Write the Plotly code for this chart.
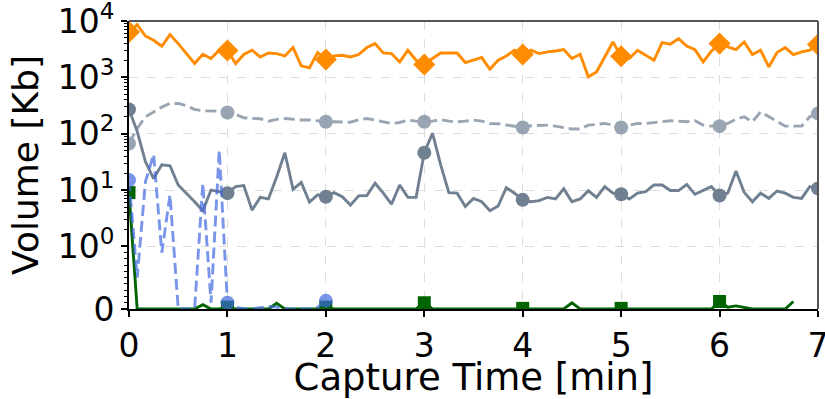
import math
import plotly.graph_objects as go

# ---- data (5-second sampling, time in minutes) ----
n_main = 85
time_min = [i / 12 for i in range(n_main)]

orange_vals = [6380, 8630, 5420, 4550, 3565, 5740, 3975, 2640, 1760, 2570, 2160, 3030,
               3000, 1760, 2540, 3030, 2300, 2710, 2640, 2400, 3380, 1600, 1470, 2760,
               2070, 2400, 2470, 2300, 2540, 3380, 3975, 2710, 2640, 1880, 3030, 2010,
               1690, 2160, 2710, 2710, 2710, 1830, 2010, 2245, 1390, 2010, 2400, 3030,
               2540, 3030, 2640, 2830, 2940, 3110, 2160, 2570, 1020, 1250, 2300, 4250,
               2370, 2160, 3030, 2470, 2010, 4140, 3860, 4870, 3600, 3110, 1880, 2910,
               3975, 3460, 3110, 4250, 2540, 3030, 1530, 2760, 3380, 2540, 2830, 3030,
               3810]

gray_dashed_vals = [67, 124, 200, 244, 296, 344, 344, 313, 270, 255, 255, 251,
                    238, 220, 191, 186, 184, 167, 180, 186, 178, 175, 175, 167,
                    163, 163, 160, 160, 176, 186, 174, 163, 152, 158, 174, 167,
                    163, 167, 178, 167, 163, 167, 174, 167, 152, 150, 142, 136,
                    129, 138, 142, 142, 136, 127, 121, 121, 142, 146, 152, 142,
                    129, 142, 152, 152, 158, 163, 170, 167, 163, 170, 142, 136,
                    136, 152, 181, 200, 163, 244, 200, 163, 136, 136, 136, 200,
                    229]

gray_solid_vals = [270, 110, 32, 16, 28, 27, 12.3, 8.8, 6.2, 4.3, 10, 9.4,
                   8.8, 11.5, 12, 4.4, 7.4, 6.95, 17, 46, 10.3, 13.7, 6.1, 8.2,
                   7.6, 9.0, 7.6, 5.4, 7.9, 8.0, 13.2, 8.8, 5.6, 12.3, 7.4, 7.4,
                   46, 102, 28, 9.0, 8.8, 5.1, 7.1, 6.2, 4.3, 5.2, 11, 8.8,
                   6.7, 6.2, 6.5, 7.4, 6.95, 10.5, 6.2, 6.95, 9.7, 7.4, 11.5, 8.8,
                   8.4, 6.95, 8.8, 9.4, 12.3, 12.3, 9.8, 9.8, 12.6, 8.4, 9.8, 11.5,
                   8.0, 8.8, 21.8, 9.1, 6.2, 8.8, 7.1, 9.6, 8.8, 7.4, 7.1, 11.5,
                   10.7]

blue_vals = [15, 0.5, 14, 43, 0.9, 8.2, 0, 0, 0, 13, 0.1, 51,
             0.1, 0.03, 0, 0, 0.02, 0.04, 0.03, 0, 0, 0, 0, 0.03,
             0.13]

green_vals = [9, 0, 0, 0, 0, 0, 0, 0, 0, 0.07, 0, 0,
              0.03, 0, 0, 0, 0, 0, 0.09, 0, 0, 0, 0, 0,
              0.03, 0, 0, 0, 0, 0, 0, 0, 0, 0, 0, 0,
              0.1, 0, 0, 0, 0, 0, 0, 0, 0, 0, 0, 0,
              0.01, 0, 0, 0, 0, 0, 0.1, 0, 0, 0, 0, 0,
              0.01, 0, 0, 0, 0, 0, 0, 0, 0, 0, 0, 0,
              0.12, 0.03, 0.05, 0.02, 0, 0, 0, 0, 0, 0.12]

x_ticks = [0, 1, 2, 3, 4, 5, 6, 7]
y_major = [0, 1, 10, 100, 1000, 10000]
y_major_text = ["0", "10<sup>0</sup>", "10<sup>1</sup>", "10<sup>2</sup>",
                "10<sup>3</sup>", "10<sup>4</sup>"]

# ---- symmetric-log axis transform (linthresh = 1, base 10, linscale = 1) ----
LINSCALE_ADJ = 1.0 / (1.0 - 1.0 / 10.0)


def symlog(v):
    a = abs(v)
    if a <= 1:
        out = a * LINSCALE_ADJ
    else:
        out = LINSCALE_ADJ + math.log10(a)
    return out if v >= 0 else -out


def tr(vals):
    return [symlog(v) for v in vals]


minor_vals = [k / 10 for k in range(1, 10)]
for dec in range(0, 4):
    for m in range(2, 10):
        minor_vals.append(m * 10 ** dec)

MARK_EVERY = 12
LW = 2.9


def marker_sizes(n, size):
    return [size if i % MARK_EVERY == 0 else 0 for i in range(n)]


fig = go.Figure()

fig.add_trace(go.Scatter(
    x=time_min, y=tr(orange_vals), mode="lines+markers",
    line=dict(color="#FF8C00", width=LW),
    marker=dict(symbol="diamond", size=marker_sizes(len(orange_vals), 17),
                color="#FF8C00", opacity=1, line=dict(width=0)),
    showlegend=False))

fig.add_trace(go.Scatter(
    x=time_min, y=tr(gray_dashed_vals), mode="lines+markers",
    line=dict(color="#778899", width=LW, dash="11px,5px"),
    marker=dict(symbol="circle", size=marker_sizes(len(gray_dashed_vals), 14),
                color="#778899", opacity=1, line=dict(width=0)),
    opacity=0.75, showlegend=False))

fig.add_trace(go.Scatter(
    x=time_min, y=tr(gray_solid_vals), mode="lines+markers",
    line=dict(color="#708090", width=LW),
    marker=dict(symbol="circle", size=marker_sizes(len(gray_solid_vals), 14),
                color="#708090", opacity=1, line=dict(width=0)),
    showlegend=False))

fig.add_trace(go.Scatter(
    x=time_min[:len(green_vals)], y=tr(green_vals), mode="lines+markers",
    line=dict(color="#006400", width=LW),
    marker=dict(symbol="square", size=marker_sizes(len(green_vals), 13),
                color="#006400", opacity=1, line=dict(width=0)),
    showlegend=False))

fig.add_trace(go.Scatter(
    x=time_min[:len(blue_vals)], y=tr(blue_vals), mode="lines+markers",
    line=dict(color="#4169E1", width=LW, dash="11px,5px"),
    marker=dict(symbol="circle", size=marker_sizes(len(blue_vals), 14),
                color="#4169E1", opacity=1, line=dict(width=0)),
    opacity=0.7, showlegend=False))

FONT = "DejaVu Sans"

fig.update_layout(
    width=825, height=399,
    margin=dict(l=129, r=7, t=21, b=90),
    paper_bgcolor="white", plot_bgcolor="white",
    font=dict(family=FONT, color="black", size=32),
    showlegend=False,
    xaxis=dict(
        range=[0, 7], tickvals=x_ticks, ticktext=[str(t) for t in x_ticks],
        ticks="outside", ticklen=6, tickwidth=1.5, tickcolor="black",
        showline=True, linecolor="black", linewidth=2,
        showgrid=True, gridcolor="#dddddd", griddash="dash", gridwidth=1,
        zeroline=False, tickfont=dict(size=33), ticklabeloverflow="allow",
        automargin=False,
        title=dict(text="Capture Time [min]", font=dict(size=37), standoff=11),
    ),
    yaxis=dict(
        range=[0, symlog(10000) + 1e-9],
        tickvals=tr(y_major), ticktext=y_major_text,
        ticks="outside", ticklen=6, tickwidth=1.5, tickcolor="black",
        showline=True, linecolor="black", linewidth=2,
        showgrid=True, gridcolor="#dddddd", griddash="dash", gridwidth=1,
        zeroline=False, tickfont=dict(size=33), ticklabeloverflow="allow",
        automargin=False,
        minor=dict(tickvals=tr(minor_vals), ticks="outside", ticklen=3,
                   tickwidth=1, tickcolor="black", showgrid=False),
        title=dict(text="Volume [Kb]", font=dict(size=36), standoff=8),
    ),
    shapes=[
        dict(type="line", xref="x domain", yref="y domain", x0=0, x1=1, y0=1, y1=1,
             line=dict(color="#555555", width=2)),
        dict(type="line", xref="x domain", yref="y domain", x0=1, x1=1, y0=0, y1=1,
             line=dict(color="#555555", width=2)),
    ],
)

fig.write_html("out.html")
